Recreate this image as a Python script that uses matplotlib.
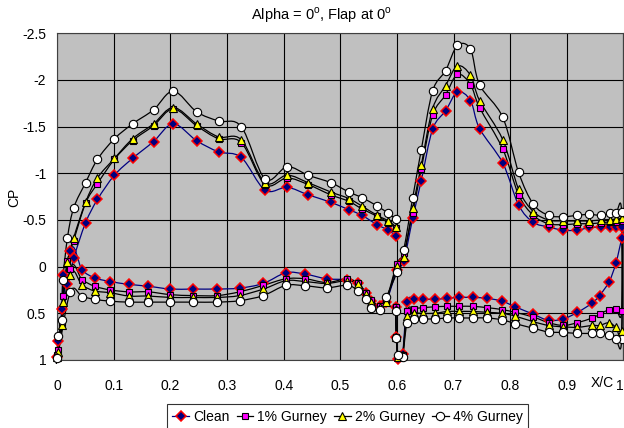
import numpy as np
import matplotlib
matplotlib.use("Agg")
import matplotlib.pyplot as plt
from matplotlib.path import Path
from matplotlib.patches import PathPatch
from matplotlib.lines import Line2D

# ---------------------------------------------------------------- data
# Pressure tap chord positions (x/c), listed in surface order
x_main_upper = [0.598, 0.585, 0.565, 0.538, 0.515, 0.483, 0.443, 0.406, 0.367, 0.325,
                0.285, 0.246, 0.205, 0.170, 0.133, 0.101, 0.071, 0.050, 0.029, 0.018,
                0.010, 0.008, 0.002, 0.000]                       # TE -> LE
x_main_lower = [0.023, 0.044, 0.066, 0.094, 0.127, 0.161, 0.200, 0.239, 0.282, 0.322,
                0.364, 0.404, 0.438, 0.476, 0.512, 0.532, 0.545, 0.554, 0.570, 0.581]  # LE -> TE
x_flap_upper = [0.600, 0.612, 0.628, 0.643, 0.663, 0.686, 0.707, 0.730, 0.746, 0.787,
                0.815, 0.841, 0.868, 0.894, 0.919, 0.940, 0.960, 0.977, 0.987, 0.997]  # LE -> TE
x_flap_lower = [0.997, 0.987, 0.975, 0.958, 0.945, 0.919, 0.894, 0.868, 0.841, 0.809,
                0.786, 0.760, 0.734, 0.710, 0.689, 0.667, 0.646, 0.631, 0.618, 0.610,
                0.602, 0.599, 0.598]                               # TE -> LE

# Clean
clean_main_upper = [-0.33, -0.39, -0.45, -0.55, -0.61, -0.69, -0.77, -0.85, -0.82, -1.17,
                    -1.23, -1.35, -1.53, -1.34, -1.16, -0.98, -0.72, -0.47, -0.09, 0.19,
                    0.09, 0.45, 0.80, 0.97]
clean_main_lower = [-0.17, 0.035, 0.12, 0.16, 0.19, 0.21, 0.24, 0.24, 0.24, 0.23,
                    0.18, 0.065, 0.08, 0.13, 0.14, 0.18, 0.28, 0.37, 0.42, 0.38]
clean_flap_upper = [0.04, -0.06, -0.52, -0.92, -1.47, -1.67, -1.87, -1.78, -1.48, -1.11,
                    -0.66, -0.475, -0.425, -0.39, -0.39, -0.42, -0.42, -0.42, -0.42, -0.42]
clean_flap_lower = [-0.31, -0.04, 0.16, 0.31, 0.39, 0.49, 0.56, 0.575, 0.51, 0.43,
                    0.37, 0.34, 0.33, 0.33, 0.34, 0.35, 0.35, 0.35, 0.38, 0.94,
                    0.99, 0.75, 0.43]

# 1% Gurney
g1_main_upper = [-0.41, -0.47, -0.54, -0.62, -0.70, -0.77, -0.88, -0.95, -0.88, -1.33,
                 -1.37, -1.51, -1.69, -1.51, -1.35, -1.15, -0.89, -0.68, -0.28, -0.06,
                 0.31, 0.60, 0.89, 0.95]
g1_main_lower = [0.02, 0.14, 0.21, 0.25, 0.27, 0.27, 0.30, 0.31, 0.31, 0.27,
                 0.20, 0.13, 0.13, 0.17, 0.13, 0.18, 0.28, 0.36, 0.42, 0.36]
g1_flap_upper = [-0.03, -0.15, -0.58, -1.045, -1.62, -1.84, -2.06, -1.95, -1.705, -1.26,
                 -0.77, -0.55, -0.46, -0.45, -0.46, -0.46, -0.47, -0.48, -0.48, -0.49]
g1_flap_lower = [0.48, 0.457, 0.46, 0.51, 0.55, 0.60, 0.63, 0.60, 0.54, 0.49,
                 0.46, 0.44, 0.425, 0.425, 0.425, 0.43, 0.44, 0.45, 0.475, 0.95,
                 0.97, 0.75, 0.43]

# 2% Gurney
g2_main_upper = [-0.425, -0.49, -0.55, -0.65, -0.73, -0.80, -0.90, -0.98, -0.90, -1.36,
                 -1.39, -1.53, -1.705, -1.53, -1.37, -1.16, -0.95, -0.69, -0.31, -0.05,
                 0.38, 0.62, 0.91, 0.97]
g2_main_lower = [0.085, 0.20, 0.26, 0.28, 0.315, 0.315, 0.33, 0.33, 0.33, 0.31,
                 0.24, 0.15, 0.16, 0.18, 0.15, 0.19, 0.29, 0.38, 0.43, 0.38]
g2_flap_upper = [-0.01, -0.10, -0.63, -1.085, -1.69, -1.94, -2.15, -2.05, -1.78, -1.36,
                 -0.83, -0.59, -0.50, -0.49, -0.49, -0.49, -0.50, -0.505, -0.51, -0.525]
g2_flap_lower = [0.69, 0.65, 0.60, 0.63, 0.63, 0.65, 0.645, 0.63, 0.59, 0.53,
                 0.50, 0.49, 0.48, 0.48, 0.48, 0.50, 0.50, 0.50, 0.53, 0.95,
                 0.97, 0.75, 0.45]

# 4% Gurney
g4_main_upper = [-0.51, -0.57, -0.65, -0.74, -0.80, -0.90, -0.98, -1.07, -0.94, -1.50,
                 -1.56, -1.66, -1.88, -1.68, -1.53, -1.37, -1.15, -0.90, -0.63, -0.31,
                 0.14, 0.57, 0.745, 0.975]
g4_main_lower = [0.27, 0.32, 0.35, 0.37, 0.38, 0.38, 0.38, 0.38, 0.38, 0.365,
                 0.31, 0.20, 0.205, 0.227, 0.20, 0.26, 0.35, 0.44, 0.46, 0.33]
g4_flap_upper = [0.06, -0.18, -0.74, -1.25, -1.88, -2.10, -2.37, -2.33, -1.95, -1.60,
                 -1.01, -0.67, -0.55, -0.535, -0.55, -0.56, -0.55, -0.57, -0.57, -0.585]
g4_flap_lower = [0.78, 0.78, 0.73, 0.715, 0.715, 0.715, 0.705, 0.70, 0.66, 0.61,
                 0.57, 0.55, 0.55, 0.55, 0.55, 0.56, 0.56, 0.56, 0.60, 0.965,
                 0.95, 0.76, 0.47]

series_names = ["Clean", "1% Gurney", "2% Gurney", "4% Gurney"]
x_ticks = [0, 0.1, 0.2, 0.3, 0.4, 0.5, 0.6, 0.7, 0.8, 0.9, 1]
x_tick_labels = ["0", "0.1", "0.2", "0.3", "0.4", "0.5", "0.6", "0.7", "0.8", "0.9", "1"]
y_ticks = [-2.5, -2, -1.5, -1, -0.5, 0, 0.5, 1]
y_tick_labels = ["-2.5", "-2", "-1.5", "-1", "-0.5", "0", "0.5", "1"]

# ---------------------------------------------------------------- styles
styles = [
    dict(line="#000080", marker="D", ms=4.6, mfc="#000080", mec="#FF0000", mew=1.1),
    dict(line="#000000", marker="s", ms=4.0, mfc="#FF00FF", mec="#000000", mew=0.8),
    dict(line="#000000", marker="^", ms=6.0, mfc="#FFFF00", mec="#000000", mew=0.8),
    dict(line="#000000", marker="o", ms=6.0, mfc="#FFFFFF", mec="#000000", mew=0.8),
]

plt.rcParams["font.family"] = ["Liberation Sans", "DejaVu Sans"]


def smooth_path(xs, ys):
    """Cubic Bezier path through the points (spreadsheet-style smoothed line)."""
    p = np.column_stack([xs, ys]).astype(float)
    n = len(p)
    verts = [p[0]]
    codes = [Path.MOVETO]
    for i in range(n - 1):
        p0 = p[i - 1] if i > 0 else p[i]
        p1 = p[i]
        p2 = p[i + 1]
        p3 = p[i + 2] if i + 2 < n else p[i + 1]
        c1 = p1 + (p2 - p0) / 6.0
        c2 = p2 - (p3 - p1) / 6.0
        verts += [c1, c2, p2]
        codes += [Path.CURVE4] * 3
    return Path(verts, codes)


fig = plt.figure(figsize=(6.24, 4.28), dpi=100)
ax = fig.add_axes([0.0918, 0.1589, 0.9071, 0.7633])
ax.set_facecolor("#C0C0C0")
ax.set_xlim(0, 1)
ax.set_ylim(1, -2.5)

ax.set_xticks(x_ticks)
ax.set_xticklabels(x_tick_labels)
ax.set_yticks(y_ticks)
ax.set_yticklabels(y_tick_labels)
ax.tick_params(axis="both", length=0, labelsize=10)
ax.tick_params(axis="x", pad=14)
ax.tick_params(axis="y", pad=8)
# the last x label sits flush with the right edge of the figure
ax.get_xticklabels()[-1].set_horizontalalignment("right")
ax.grid(True, color="#000000", linewidth=0.8)
ax.set_axisbelow(True)
for s in ax.spines.values():
    s.set_color("#404040")
    s.set_linewidth(0.8)

all_series = [
    (clean_main_upper, clean_main_lower, clean_flap_upper, clean_flap_lower),
    (g1_main_upper, g1_main_lower, g1_flap_upper, g1_flap_lower),
    (g2_main_upper, g2_main_lower, g2_flap_upper, g2_flap_lower),
    (g4_main_upper, g4_main_lower, g4_flap_upper, g4_flap_lower),
]
x_all = x_main_upper + x_main_lower + x_flap_upper + x_flap_lower

handles = []
for k, (mu, ml, fu, fl) in enumerate(all_series):
    st = styles[k]
    cp = mu + ml + fu + fl
    patch = PathPatch(smooth_path(x_all, cp), facecolor="none", edgecolor=st["line"],
                      linewidth=0.9, zorder=3 + k * 0.1, clip_on=False)
    ax.add_patch(patch)
    ax.plot(x_all, cp, linestyle="none", marker=st["marker"], ms=st["ms"],
            mfc=st["mfc"], mec=st["mec"], mew=st["mew"], zorder=4 + k * 0.1, clip_on=False)
    handles.append(Line2D([], [], color=st["line"], linewidth=0.9, marker=st["marker"],
                          ms=st["ms"], mfc=st["mfc"], mec=st["mec"], mew=st["mew"]))

# axis captions
ax.text(0.962, -0.07, "X/C", transform=ax.get_xaxis_transform(), ha="center", va="center",
        fontsize=10)
fig.text(14 / 624, 1 - 197 / 428, "CP", rotation=90, ha="center", va="center", fontsize=10)
fig.text(321 / 624, 1 - 15 / 428, "Alpha = 0$^\\mathregular{o}$, Flap at 0$^\\mathregular{o}$",
         ha="center", va="center", fontsize=10.5)

leg = fig.legend(handles, series_names, loc="upper center", bbox_to_anchor=(0.557, 0.056),
                 ncol=4, frameon=True, fancybox=False, edgecolor="#000000",
                 handlelength=1.2, handletextpad=0.3, columnspacing=0.5, borderpad=0.4,
                 borderaxespad=0.0, fontsize=10)
leg.get_frame().set_linewidth(0.8)

fig.savefig("out.png", dpi=100)
